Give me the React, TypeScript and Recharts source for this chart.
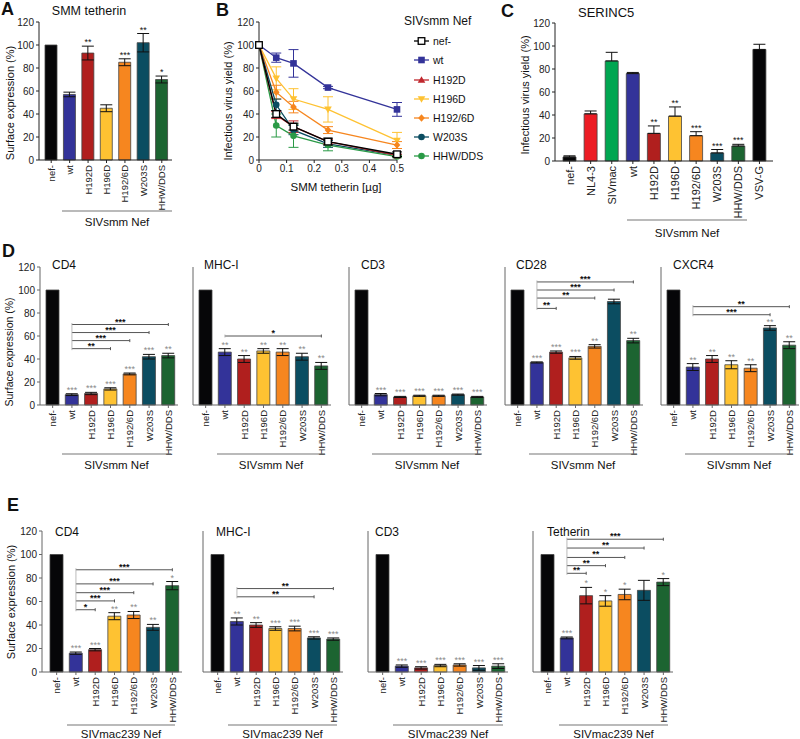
import React from "react";
import {
  BarChart,
  Bar,
  Cell,
  XAxis,
  YAxis,
  ErrorBar,
  ReferenceLine,
  ReferenceDot,
  LineChart,
  Line,
} from "recharts";

const FONT = '"Liberation Sans", Arial, sans-serif';

const COLORS: Record<string, string> = {
  "nef-": "#060608",
  wt: "#333399",
  H192D: "#b01f1e",
  H196D: "#fec232",
  "H192/6D": "#f6861f",
  W203S: "#0b4d61",
  "HHW/DDS": "#1c6431",
  "NL4-3": "#ec1c24",
  SIVmac: "#00a651",
  "VSV-G": "#060608",
};

// categories
const smmCats = ["nef-", "wt", "H192D", "H196D", "H192/6D", "W203S", "HHW/DDS"];
const serincCats = ["nef-", "NL4-3", "SIVmac", "wt", "H192D", "H196D", "H192/6D", "W203S", "HHW/DDS", "VSV-G"];
const yTicks = [0, 20, 40, 60, 80, 100, 120];

// A: SMM tetherin
const aValues = [100, 57, 93, 45, 85, 102, 70];
const aErrors = [0, 2, 6, 3, 3, 8, 3];
const aStars = ["", "", "**", "", "***", "**", "*"];

// B: titration
const bDoses = [0, 0.0625, 0.125, 0.25, 0.5];
const bTicks = [0, 0.1, 0.2, 0.3, 0.4, 0.5];
const bWt = [100, 89, 84, 63, 44];
const bWtErr = [0, 4, 12, 1, 6];
const bH196D = [100, 71, 53, 44, 17];
const bH196DErr = [0, 10, 9, 11, 7];
const bH1926D = [100, 59, 46, 26, 13];
const bH1926DErr = [0, 6, 5, 3, 3];
const bW203S = [100, 48, 26, 14, 4];
const bW203SErr = [0, 5, 4, 3, 1];
const bHHW = [100, 30, 21, 13, 3];
const bHHWErr = [0, 10, 10, 5, 1];
const bH192D = [100, 39, 29, 16, 4];
const bH192DErr = [0, 3, 5, 2, 1];
const bNef = [100, 40, 29, 16, 5];
const bNefErr = [0, 3, 3, 3, 2];

// C: SERINC5
const cValues = [3.5, 41, 87, 76, 24, 39, 22, 7, 13, 97];
const cErrors = [1, 2.5, 7.5, 1, 6.5, 8, 3.5, 3, 1.5, 4.5];
const cStars = ["", "", "", "", "**", "**", "***", "***", "***", ""];

// D: SIVsmm Nef
const dCd4 = [100, 9, 10, 14, 27, 42, 43];
const dCd4Err = [0, 0.8, 1, 1, 0.8, 2, 2];
const dCd4Stars = ["", "***", "***", "***", "***", "***", "**"];
const dMhc = [100, 46, 40, 47, 46, 42, 34];
const dMhcErr = [0, 3, 3, 2, 3, 3, 3];
const dMhcStars = ["", "**", "**", "**", "**", "**", "**"];
const dCd3 = [100, 9, 7, 8, 8, 9, 7];
const dCd3Err = [0, 1, 0.5, 0.5, 0.5, 0.5, 0.5];
const dCd3Stars = ["", "***", "***", "***", "***", "***", "***"];
const dCd28 = [100, 37, 46, 41, 51, 90, 56];
const dCd28Err = [0, 0.5, 1, 1.2, 1.5, 2, 2];
const dCd28Stars = ["", "***", "***", "***", "**", "", "**"];
const dCxcr4 = [100, 33, 40, 35, 32, 67, 52];
const dCxcr4Err = [0, 3, 3, 3.5, 3, 2, 3];
const dCxcr4Stars = ["", "**", "**", "**", "**", "**", "**"];

// E: SIVmac239 Nef
const eCd4 = [100, 16, 19, 47.5, 48.5, 38, 73.5];
const eCd4Err = [0, 1, 1, 3, 3, 2.5, 3.5];
const eCd4Stars = ["", "***", "***", "**", "**", "**", "*"];
const eMhc = [100, 43, 40, 37, 37, 29, 28];
const eMhcErr = [0, 3, 2, 1.5, 2, 1, 1];
const eMhcStars = ["", "**", "**", "***", "***", "***", "***"];
const eCd3 = [100, 5, 3.5, 5.5, 6, 3.5, 5];
const eCd3Err = [0, 1, 1, 1, 1, 2, 2];
const eCd3Stars = ["", "***", "***", "***", "***", "***", "***"];
const eTeth = [100, 29, 65, 60.5, 66, 69.5, 76.5];
const eTethErr = [0, 0.8, 7, 4.5, 4.5, 8.5, 3];
const eTethStars = ["", "***", "*", "*", "*", "", "*"];

type Bracket = { to: string; y: number; stars: string };

const dCd4Brackets: Bracket[] = [
  { to: "H196D", y: 49, stars: "**" },
  { to: "H192/6D", y: 56, stars: "***" },
  { to: "W203S", y: 63, stars: "***" },
  { to: "HHW/DDS", y: 70, stars: "***" },
];
const dMhcBrackets: Bracket[] = [{ to: "HHW/DDS", y: 60, stars: "*" }];
const dCd28Brackets: Bracket[] = [
  { to: "H192D", y: 84, stars: "**" },
  { to: "H192/6D", y: 93, stars: "**" },
  { to: "W203S", y: 100, stars: "***" },
  { to: "HHW/DDS", y: 107, stars: "***" },
];
const dCxcr4Brackets: Bracket[] = [
  { to: "W203S", y: 78.5, stars: "***" },
  { to: "HHW/DDS", y: 85.5, stars: "**" },
];
const eCd4Brackets: Bracket[] = [
  { to: "H192D", y: 53, stars: "*" },
  { to: "H196D", y: 60.5, stars: "***" },
  { to: "H192/6D", y: 67.5, stars: "***" },
  { to: "W203S", y: 75, stars: "***" },
  { to: "HHW/DDS", y: 87, stars: "***" },
];
const eMhcBrackets: Bracket[] = [
  { to: "W203S", y: 64, stars: "**" },
  { to: "HHW/DDS", y: 71, stars: "**" },
];
const eTethBrackets: Bracket[] = [
  { to: "H192D", y: 84, stars: "**" },
  { to: "H196D", y: 90.5, stars: "**" },
  { to: "H192/6D", y: 97.5, stars: "**" },
  { to: "W203S", y: 105.5, stars: "**" },
  { to: "HHW/DDS", y: 113, stars: "***" },
];

// line series for B (drawn in this order, last on top)
const bSeries = [
  { key: "wt", name: "wt", color: "#333399", shape: "square", values: bWt, errors: bWtErr },
  { key: "H196D", name: "H196D", color: "#fec232", shape: "triDown", values: bH196D, errors: bH196DErr },
  { key: "H1926D", name: "H192/6D", color: "#f6861f", shape: "diamond", values: bH1926D, errors: bH1926DErr },
  { key: "W203S", name: "W203S", color: "#0b4d61", shape: "circle", values: bW203S, errors: bW203SErr },
  { key: "HHW", name: "HHW/DDS", color: "#2a9a46", shape: "circle", values: bHHW, errors: bHHWErr },
  { key: "H192D", name: "H192D", color: "#c0272d", shape: "triUp", values: bH192D, errors: bH192DErr },
  { key: "nef", name: "nef-", color: "#000000", shape: "openSquare", values: bNef, errors: bNefErr },
];
const legendOrder = ["nef", "wt", "H192D", "H196D", "H1926D", "W203S", "HHW"];

function Marker({ shape, cx, cy, color, s = 3.3 }: { shape: string; cx: number; cy: number; color: string; s?: number }) {
  if (shape === "square") return <rect x={cx - s} y={cy - s} width={2 * s} height={2 * s} fill={color} />;
  if (shape === "openSquare")
    return <rect x={cx - s} y={cy - s} width={2 * s} height={2 * s} fill="#fff" stroke={color} strokeWidth={1.3} />;
  if (shape === "triUp")
    return <polygon points={`${cx},${cy - s - 0.5} ${cx - s - 0.5},${cy + s - 0.5} ${cx + s + 0.5},${cy + s - 0.5}`} fill={color} />;
  if (shape === "triDown")
    return <polygon points={`${cx},${cy + s + 0.5} ${cx - s - 0.5},${cy - s + 0.5} ${cx + s + 0.5},${cy - s + 0.5}`} fill={color} />;
  if (shape === "diamond")
    return <polygon points={`${cx},${cy - s - 0.5} ${cx + s},${cy} ${cx},${cy + s + 0.5} ${cx - s},${cy}`} fill={color} />;
  return <circle cx={cx} cy={cy} r={s} fill={color} />;
}

function RotTick(props: any) {
  const { x, y, payload, fs } = props;
  return (
    <text
      x={x}
      y={y}
      transform={`rotate(-90 ${x} ${y})`}
      textAnchor="end"
      dominantBaseline="central"
      fontSize={fs}
      fill="#222"
      fontFamily={FONT}
    >
      {payload.value}
    </text>
  );
}

interface BarPanelProps {
  cats: string[];
  values: number[];
  errors: number[];
  stars: string[];
  brackets?: Bracket[];
  axisX: number;
  yTop: number;
  yBot: number;
  plotW: number;
  padLeft: number;
  padRight: number;
  showYLabels?: boolean;
  upOnly?: boolean;
  barSize: number;
  tickFont: number;
  starColor: string;
  axisColor: string;
}

function BarPanel(p: BarPanelProps) {
  const yw = p.showYLabels ? 32 : 6;
  const mt = 12;
  const mr = 6;
  const xh = 70;
  const data = p.cats.map((c, i) => ({
    cat: c,
    value: p.values[i],
    err: p.upOnly ? [0, p.errors[i]] : p.errors[i],
  }));
  const brackets = p.brackets || [];
  return (
    <div style={{ position: "absolute", left: p.axisX - yw, top: p.yTop - mt }}>
      <BarChart
        width={yw + p.plotW + mr}
        height={mt + (p.yBot - p.yTop) + xh}
        data={data}
        margin={{ top: mt, right: mr, left: 0, bottom: 0 }}
      >
        <XAxis
          dataKey="cat"
          height={xh}
          interval={0}
          tick={(t: any) => <RotTick {...t} fs={p.tickFont} />}
          tickSize={3}
          tickMargin={2}
          stroke={p.axisColor}
          padding={{ left: p.padLeft, right: p.padRight }}
        />
        <YAxis
          width={yw}
          domain={[0, 120]}
          ticks={yTicks}
          interval={0}
          tick={p.showYLabels ? { fontSize: 10, fill: "#222", fontFamily: FONT } : false}
          tickSize={3}
          tickMargin={2}
          stroke={p.axisColor}
        />
        <Bar dataKey="value" barSize={p.barSize} isAnimationActive={false} stroke="#444" strokeWidth={0.8}>
          {data.map((d) => (
            <Cell key={d.cat} fill={COLORS[d.cat]} />
          ))}
          <ErrorBar dataKey="err" width={6} stroke="#111" strokeWidth={1} direction="y" />
        </Bar>
        {p.cats.map((c, i) =>
          p.stars[i] ? (
            <ReferenceDot
              key={"s" + c}
              x={c}
              y={p.values[i] + p.errors[i]}
              r={0}
              fill="none"
              stroke="none"
              ifOverflow="visible"
              label={{ value: p.stars[i], position: "top", offset: 1, fontSize: 9, fill: p.starColor, fontFamily: FONT }}
            />
          ) : null
        )}
        {brackets.map((b) => (
          <ReferenceLine
            key={"b" + b.to}
            segment={[
              { x: "wt", y: b.y },
              { x: b.to, y: b.y },
            ]}
            stroke="#555"
            strokeWidth={1}
            ifOverflow="visible"
            label={{ value: b.stars, position: "top", offset: 0, fontSize: 9, fill: "#111", fontFamily: FONT, fontWeight: "bold" }}
          />
        ))}
        {brackets.map((b) => (
          <ReferenceLine
            key={"e" + b.to}
            segment={[
              { x: b.to, y: b.y - 1.3 },
              { x: b.to, y: b.y + 1.3 },
            ]}
            stroke="#555"
            strokeWidth={1}
            ifOverflow="visible"
          />
        ))}
        {brackets.length > 0 && (
          <ReferenceLine
            segment={[
              { x: "wt", y: Math.min(...brackets.map((b) => b.y)) - 1.3 },
              { x: "wt", y: Math.max(...brackets.map((b) => b.y)) + 1.3 },
            ]}
            stroke="#aaa"
            strokeWidth={0.8}
            ifOverflow="visible"
          />
        )}
      </BarChart>
    </div>
  );
}

function TitrationPanel() {
  const axisX = 259;
  const yTop = 22;
  const yBot = 160;
  const plotW = 138;
  const yw = 32;
  const mt = 12;
  const mr = 14;
  const xh = 22;
  const rows = bDoses.map((d, i) => {
    const r: Record<string, number> = { dose: d };
    bSeries.forEach((s) => {
      r[s.key] = s.values[i];
      r[s.key + "_e"] = s.errors[i];
    });
    return r;
  });
  return (
    <div style={{ position: "absolute", left: axisX - yw, top: yTop - mt }}>
      <LineChart width={yw + plotW + mr} height={mt + (yBot - yTop) + xh} data={rows} margin={{ top: mt, right: mr, left: 0, bottom: 0 }}>
        <XAxis
          type="number"
          dataKey="dose"
          domain={[0, 0.5]}
          ticks={bTicks}
          interval={0}
          height={xh}
          tickSize={3}
          tickMargin={2}
          stroke="#222"
          tick={{ fontSize: 10, fill: "#222", fontFamily: FONT }}
        />
        <YAxis
          width={yw}
          domain={[0, 120]}
          ticks={yTicks}
          interval={0}
          tickSize={3}
          tickMargin={2}
          stroke="#222"
          tick={{ fontSize: 10, fill: "#222", fontFamily: FONT }}
        />
        {bSeries.map((s) => (
          <Line
            key={s.key}
            dataKey={s.key}
            stroke={s.color}
            strokeWidth={1.3}
            isAnimationActive={false}
            dot={(d: any) => <Marker key={`${s.key}-${d.index}`} shape={s.shape} cx={d.cx} cy={d.cy} color={s.color} />}
          >
            <ErrorBar dataKey={s.key + "_e"} width={5} stroke={s.color} strokeWidth={1} direction="y" />
          </Line>
        ))}
      </LineChart>
    </div>
  );
}

const t = (x: number, y: number, s: string, size: number, extra: any = {}) => (
  <text x={x} y={y} fontSize={size} fontFamily={FONT} fill="#111" {...extra}>
    {s}
  </text>
);

function Overlay() {
  const vlab = (cx: number, cy: number, s: string, size: number) => (
    <text
      x={cx}
      y={cy}
      fontSize={size}
      fontFamily={FONT}
      fill="#111"
      textAnchor="middle"
      dominantBaseline="central"
      transform={`rotate(-90 ${cx} ${cy})`}
    >
      {s}
    </text>
  );
  const group = (x1: number, x2: number, y: number, label: string, ty: number) => (
    <g key={label + x1}>
      <line x1={x1} x2={x2} y1={y} y2={y} stroke="#777" strokeWidth={1.2} />
      {t((x1 + x2) / 2, ty, label, 11.5, { textAnchor: "middle" })}
    </g>
  );
  const legendY = [41, 60, 80, 99, 118, 137, 156];
  return (
    <svg width={800} height={739} style={{ position: "absolute", left: 0, top: 0, pointerEvents: "none" }}>
      {t(1, 15, "A", 18, { fontWeight: "bold" })}
      {t(216, 16, "B", 18, { fontWeight: "bold" })}
      {t(501, 17, "C", 18, { fontWeight: "bold" })}
      {t(2, 257, "D", 18, { fontWeight: "bold" })}
      {t(7, 511, "E", 18, { fontWeight: "bold" })}

      {t(89, 15, "SMM tetherin", 12.5, { textAnchor: "middle" })}
      {t(578, 17, "SERINC5", 13)}
      {vlab(10, 103, "Surface expression (%)", 11)}
      {vlab(228, 101, "Infectious virus yield (%)", 11)}
      {vlab(525, 95, "Infectious virus yield (%)", 11)}
      {vlab(9, 352, "Surface expression (%)", 10.5)}
      {vlab(11, 602, "Surface expression (%)", 11)}
      {t(336, 191, "SMM tetherin [µg]", 11.5, { textAnchor: "middle" })}

      {/* legend B */}
      {t(404, 25, "SIVsmm Nef", 12)}
      {legendOrder.map((k, i) => {
        const s = bSeries.find((q) => q.key === k)!;
        const y = legendY[i];
        return (
          <g key={k}>
            <line x1={414} x2={429} y1={y} y2={y} stroke={s.color} strokeWidth={1.3} />
            <Marker shape={s.shape} cx={421.5} cy={y} color={s.color} />
            {t(433, y + 3.8, s.name, 10.5)}
          </g>
        );
      })}

      {/* panel titles D */}
      {t(52, 269, "CD4", 12)}
      {t(204, 269, "MHC-I", 12)}
      {t(361, 269, "CD3", 12)}
      {t(516, 269, "CD28", 12)}
      {t(673, 269, "CXCR4", 12)}
      {/* panel titles E */}
      {t(55, 536, "CD4", 12)}
      {t(216, 536, "MHC-I", 12)}
      {t(375, 536, "CD3", 12)}
      {t(547, 536, "Tetherin", 12)}

      {/* group annotations */}
      {group(62, 172, 211, "SIVsmm Nef", 226)}
      {group(627, 747, 220, "SIVsmm Nef", 237)}
      {group(62, 171, 454, "SIVsmm Nef", 469)}
      {group(217, 325, 454, "SIVsmm Nef", 469)}
      {group(372, 482, 454, "SIVsmm Nef", 469)}
      {group(529, 637, 454, "SIVsmm Nef", 469)}
      {group(685, 793, 454, "SIVsmm Nef", 469)}
      {group(67, 175, 725, "SIVmac239 Nef", 738)}
      {group(228, 337, 725, "SIVmac239 Nef", 738)}
      {group(393, 503, 725, "SIVmac239 Nef", 738)}
      {group(559, 668, 725, "SIVmac239 Nef", 738)}
    </svg>
  );
}

export default function App() {
  const dAxes = [40, 193, 349, 505, 661];
  const eAxes = [42, 203, 368, 533];
  const dCommon = { cats: smmCats, yTop: 267, yBot: 405, plotW: 138, padLeft: 3, padRight: 0, barSize: 13, tickFont: 9.5, starColor: "#8a8a8a", axisColor: "#666" };
  const eCommon = { cats: smmCats, yTop: 531, yBot: 672, plotW: 140, padLeft: 5, padRight: 0, barSize: 13, tickFont: 9.5, starColor: "#8a8a8a", axisColor: "#666" };
  return (
    <div style={{ position: "absolute", left: 0, top: 0, width: 800, height: 739, background: "#fff", fontFamily: FONT, overflow: "hidden" }}>
      <BarPanel
        cats={smmCats}
        values={aValues}
        errors={aErrors}
        stars={aStars}
        axisX={39}
        yTop={22}
        yBot={160}
        plotW={133}
        padLeft={3}
        padRight={1}
        showYLabels
        barSize={12}
        tickFont={9.5}
        starColor="#111"
        axisColor="#222"
      />
      <TitrationPanel />
      <BarPanel
        cats={serincCats}
        values={cValues}
        errors={cErrors}
        stars={cStars}
        axisX={555}
        yTop={23}
        yBot={161}
        plotW={218}
        padLeft={4}
        padRight={3}
        showYLabels
        upOnly
        barSize={13}
        tickFont={11}
        starColor="#111"
        axisColor="#222"
      />
      <BarPanel {...dCommon} axisX={dAxes[0]} values={dCd4} errors={dCd4Err} stars={dCd4Stars} brackets={dCd4Brackets} showYLabels />
      <BarPanel {...dCommon} axisX={dAxes[1]} values={dMhc} errors={dMhcErr} stars={dMhcStars} brackets={dMhcBrackets} />
      <BarPanel {...dCommon} axisX={dAxes[2]} values={dCd3} errors={dCd3Err} stars={dCd3Stars} />
      <BarPanel {...dCommon} axisX={dAxes[3]} values={dCd28} errors={dCd28Err} stars={dCd28Stars} brackets={dCd28Brackets} />
      <BarPanel {...dCommon} axisX={dAxes[4]} values={dCxcr4} errors={dCxcr4Err} stars={dCxcr4Stars} brackets={dCxcr4Brackets} />
      <BarPanel {...eCommon} axisX={eAxes[0]} values={eCd4} errors={eCd4Err} stars={eCd4Stars} brackets={eCd4Brackets} showYLabels />
      <BarPanel {...eCommon} axisX={eAxes[1]} values={eMhc} errors={eMhcErr} stars={eMhcStars} brackets={eMhcBrackets} />
      <BarPanel {...eCommon} axisX={eAxes[2]} values={eCd3} errors={eCd3Err} stars={eCd3Stars} />
      <BarPanel {...eCommon} axisX={eAxes[3]} values={eTeth} errors={eTethErr} stars={eTethStars} brackets={eTethBrackets} />
      <Overlay />
    </div>
  );
}
